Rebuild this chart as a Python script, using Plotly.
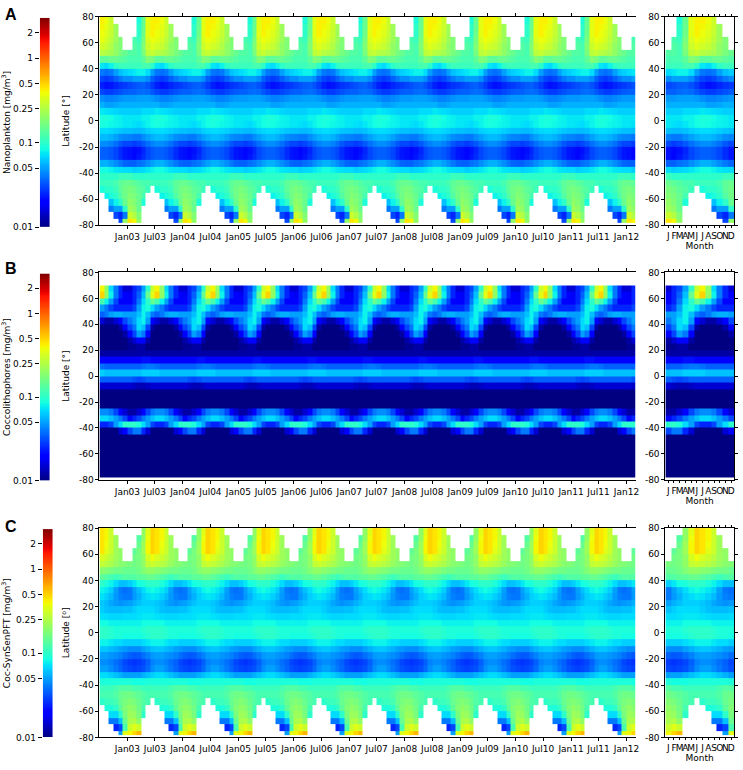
import numpy as np
import pandas as pd
import plotly.graph_objects as go

W, H = 743, 770
N = np.nan

# latitude band edges (south -> north); the tables below are written north -> south
lat_edges = [-78] + list(range(-75, 81, 5))
lat_ticks = [-80, -60, -40, -20, 0, 20, 40, 60, 80]
lat_ticktext = ["-80", "-60", "-40", "-20", "0", "20", "40", "60", "80"]
month_labels = ["J", "F", "M", "A", "M", "J", "J", "A", "S", "O", "N", "D"]
cbar_ticks = [0.01, 0.05, 0.1, 0.25, 0.5, 1, 2]
cbar_ticktext = ["0.01", "0.05", "0.1", "0.25", "0.5", "1", "2"]
vmin, vmax = 0.01, 3.0
first_month, end_month = "2002-07-01", "2012-03-01"
first_tick, last_tick = "2003-01-01", "2012-01-01"

# monthly climatology [mg/m3], rows 80N -> 78S in 5 deg bands, cols Jan..Dec
nano_clim = [
    [N, N, 0.09, 0.15, 0.36, 0.42, 0.42, 0.38, 0.3, N, N, N],           # 75-80
    [N, N, 0.1, 0.15, 0.36, 0.42, 0.4, 0.36, 0.3, 0.22, N, N],          # 70-75
    [N, N, 0.1, 0.16, 0.36, 0.42, 0.38, 0.34, 0.29, 0.22, N, N],        # 65-70
    [N, 0.12, 0.11, 0.17, 0.33, 0.38, 0.36, 0.32, 0.27, 0.22, 0.18, N], # 60-65
    [N, 0.13, 0.12, 0.18, 0.3, 0.34, 0.31, 0.29, 0.25, 0.2, 0.18, N],   # 55-60
    [0.13, 0.13, 0.12, 0.17, 0.27, 0.29, 0.26, 0.25, 0.23, 0.2, 0.17, 0.15],
    [0.12, 0.12, 0.12, 0.14, 0.18, 0.17, 0.14, 0.14, 0.15, 0.15, 0.14, 0.13],
    [0.11, 0.11, 0.11, 0.12, 0.12, 0.1, 0.075, 0.07, 0.08, 0.1, 0.11, 0.11],
    [0.07, 0.075, 0.08, 0.08, 0.07, 0.05, 0.04, 0.038, 0.04, 0.05, 0.06, 0.065],
    [0.045, 0.05, 0.05, 0.05, 0.045, 0.035, 0.03, 0.028, 0.03, 0.035, 0.04, 0.045],
    [0.03, 0.032, 0.034, 0.035, 0.032, 0.028, 0.024, 0.022, 0.023, 0.025, 0.027, 0.028],
    [0.035, 0.035, 0.037, 0.038, 0.037, 0.033, 0.03, 0.028, 0.028, 0.03, 0.032, 0.034],
    [0.048, 0.048, 0.05, 0.05, 0.05, 0.048, 0.045, 0.042, 0.042, 0.044, 0.046, 0.048],
    [0.055, 0.055, 0.055, 0.055, 0.055, 0.055, 0.055, 0.05, 0.05, 0.052, 0.055, 0.055],
    [0.065, 0.065, 0.065, 0.07, 0.07, 0.07, 0.075, 0.072, 0.07, 0.068, 0.065, 0.065],
    [0.075, 0.075, 0.075, 0.08, 0.08, 0.085, 0.09, 0.09, 0.085, 0.08, 0.078, 0.075],
    [0.075, 0.072, 0.07, 0.075, 0.08, 0.085, 0.088, 0.085, 0.082, 0.08, 0.078, 0.075],
    [0.06, 0.058, 0.058, 0.06, 0.065, 0.068, 0.07, 0.07, 0.068, 0.065, 0.062, 0.06],
    [0.042, 0.04, 0.04, 0.045, 0.05, 0.055, 0.058, 0.058, 0.055, 0.05, 0.045, 0.043],
    [0.03, 0.028, 0.03, 0.033, 0.038, 0.042, 0.045, 0.045, 0.042, 0.038, 0.033, 0.03],
    [0.022, 0.021, 0.022, 0.025, 0.03, 0.033, 0.035, 0.035, 0.033, 0.03, 0.026, 0.023],
    [0.022, 0.021, 0.023, 0.026, 0.03, 0.033, 0.035, 0.035, 0.033, 0.03, 0.026, 0.023],
    [0.035, 0.035, 0.038, 0.04, 0.045, 0.05, 0.055, 0.055, 0.05, 0.045, 0.04, 0.036],
    [0.07, 0.065, 0.068, 0.07, 0.075, 0.08, 0.085, 0.085, 0.08, 0.075, 0.072, 0.07],
    [0.11, 0.1, 0.1, 0.1, 0.1, 0.1, 0.1, 0.1, 0.1, 0.1, 0.11, 0.11],
    [0.15, 0.14, 0.13, 0.12, 0.12, 0.11, 0.11, 0.11, 0.11, 0.12, 0.14, 0.15],
    [0.17, 0.16, 0.14, 0.13, 0.11, N, 0.09, 0.1, 0.1, 0.11, 0.14, 0.16],
    [0.18, 0.17, 0.15, 0.12, N, N, N, 0.08, 0.09, 0.1, 0.13, 0.16],
    [0.2, 0.18, 0.15, 0.09, N, N, N, N, 0.06, 0.08, 0.1, 0.15],
    [0.22, 0.2, 0.15, N, N, N, N, N, 0.04, 0.05, 0.05, 0.1],
    [0.3, 0.25, 0.18, N, N, N, N, N, N, 0.03, 0.025, 0.04],
    [0.45, 0.4, 0.2, N, N, N, N, N, N, N, 0.03, 0.2],                  # 75-78S
]

cocco_clim = [
    [N] * 12,
    [N] * 12,
    [0.015, 0.025, 0.03, 0.05, 0.1, 0.3, 0.4, 0.2, 0.07, 0.04, 0.025, 0.015],
    [0.018, 0.025, 0.035, 0.06, 0.15, 0.35, 0.5, 0.2, 0.08, 0.04, 0.025, 0.02],
    [0.02, 0.025, 0.04, 0.07, 0.1, 0.15, 0.12, 0.08, 0.05, 0.03, 0.02, 0.02],
    [0.025, 0.03, 0.05, 0.08, 0.09, 0.07, 0.05, 0.04, 0.03, 0.025, 0.025, 0.025],
    [0.05, 0.05, 0.06, 0.08, 0.06, 0.04, 0.035, 0.04, 0.05, 0.055, 0.055, 0.05],
    [0.04, 0.05, 0.07, 0.08, 0.05, 0.02, 0.015, 0.012, 0.012, 0.015, 0.02, 0.03],
    [0.03, 0.04, 0.07, 0.06, 0.03, 0.012, 0.01, 0.01, 0.01, 0.01, 0.012, 0.02],
    [0.02, 0.03, 0.05, 0.04, 0.02, 0.01, 0.01, 0.01, 0.01, 0.01, 0.01, 0.012],
    [0.012, 0.015, 0.02, 0.02, 0.012, 0.01, 0.01, 0.01, 0.01, 0.01, 0.01, 0.01],
    [0.011, 0.011, 0.012, 0.012, 0.01, 0.01, 0.01, 0.01, 0.01, 0.01, 0.01, 0.01],
    [0.012, 0.012, 0.012, 0.012, 0.012, 0.012, 0.012, 0.012, 0.012, 0.012, 0.012, 0.012],
    [0.02, 0.02, 0.02, 0.022, 0.022, 0.02, 0.02, 0.02, 0.02, 0.02, 0.02, 0.02],
    [0.035, 0.035, 0.035, 0.038, 0.04, 0.04, 0.038, 0.035, 0.035, 0.035, 0.035, 0.035],
    [0.06, 0.06, 0.06, 0.065, 0.065, 0.065, 0.065, 0.06, 0.06, 0.06, 0.06, 0.06],
    [0.035, 0.032, 0.03, 0.032, 0.035, 0.035, 0.035, 0.035, 0.035, 0.035, 0.035, 0.035],
    [0.015, 0.014, 0.013, 0.013, 0.014, 0.015, 0.015, 0.015, 0.015, 0.015, 0.015, 0.015],
    [0.01] * 12,
    [0.01] * 12,
    [0.01] * 12,
    [0.012, 0.012, 0.015, 0.02, 0.03, 0.04, 0.045, 0.045, 0.04, 0.03, 0.02, 0.015],
    [0.02, 0.025, 0.03, 0.04, 0.05, 0.06, 0.07, 0.07, 0.06, 0.05, 0.04, 0.03],
    [0.1, 0.1, 0.09, 0.07, 0.05, 0.03, 0.025, 0.025, 0.03, 0.05, 0.07, 0.1],
    [0.03, 0.04, 0.04, 0.025, 0.015, 0.01, 0.01, 0.01, 0.01, 0.01, 0.015, 0.02],
    [0.01] * 12,
    [0.01] * 12,
    [0.01] * 12,
    [0.01] * 12,
    [0.01] * 12,
    [0.01] * 12,
    [0.01] * 12,
]

synsen_clim = [
    [N, N, N, 0.2, 0.35, 0.5, 0.45, 0.4, 0.3, N, N, N],
    [N, N, 0.13, 0.2, 0.38, 0.5, 0.45, 0.4, 0.3, 0.22, N, N],
    [N, N, 0.15, 0.22, 0.4, 0.5, 0.45, 0.38, 0.3, 0.22, N, N],
    [N, 0.14, 0.17, 0.22, 0.4, 0.5, 0.45, 0.35, 0.3, 0.22, 0.2, N],
    [N, 0.16, 0.17, 0.2, 0.32, 0.38, 0.33, 0.3, 0.26, 0.22, 0.2, N],
    [0.17, 0.16, 0.17, 0.2, 0.28, 0.3, 0.28, 0.26, 0.24, 0.21, 0.19, 0.18],
    [0.15, 0.15, 0.16, 0.18, 0.2, 0.2, 0.19, 0.18, 0.17, 0.16, 0.16, 0.15],
    [0.13, 0.13, 0.14, 0.14, 0.15, 0.15, 0.14, 0.13, 0.12, 0.11, 0.12, 0.13],
    [0.065, 0.075, 0.085, 0.09, 0.1, 0.1, 0.1, 0.09, 0.08, 0.07, 0.06, 0.06],
    [0.04, 0.05, 0.06, 0.07, 0.08, 0.085, 0.08, 0.075, 0.065, 0.05, 0.04, 0.038],
    [0.04, 0.048, 0.055, 0.065, 0.07, 0.075, 0.072, 0.065, 0.058, 0.048, 0.042, 0.04],
    [0.05, 0.055, 0.06, 0.065, 0.065, 0.065, 0.062, 0.058, 0.052, 0.048, 0.046, 0.048],
    [0.06, 0.065, 0.07, 0.07, 0.07, 0.07, 0.065, 0.06, 0.058, 0.058, 0.058, 0.06],
    [0.07, 0.07, 0.072, 0.075, 0.075, 0.075, 0.072, 0.07, 0.068, 0.068, 0.068, 0.07],
    [0.08, 0.08, 0.08, 0.085, 0.085, 0.085, 0.085, 0.085, 0.08, 0.08, 0.08, 0.08],
    [0.09, 0.09, 0.09, 0.095, 0.1, 0.1, 0.1, 0.1, 0.095, 0.09, 0.09, 0.09],
    [0.085, 0.085, 0.085, 0.09, 0.095, 0.1, 0.1, 0.1, 0.095, 0.09, 0.09, 0.085],
    [0.065, 0.065, 0.065, 0.07, 0.075, 0.08, 0.08, 0.08, 0.075, 0.07, 0.07, 0.065],
    [0.045, 0.045, 0.045, 0.05, 0.055, 0.06, 0.062, 0.062, 0.058, 0.055, 0.05, 0.048],
    [0.035, 0.033, 0.034, 0.038, 0.042, 0.048, 0.05, 0.05, 0.047, 0.045, 0.042, 0.038],
    [0.028, 0.027, 0.028, 0.03, 0.035, 0.042, 0.045, 0.045, 0.042, 0.038, 0.035, 0.03],
    [0.03, 0.029, 0.03, 0.032, 0.037, 0.045, 0.05, 0.05, 0.045, 0.04, 0.036, 0.032],
    [0.05, 0.05, 0.05, 0.055, 0.06, 0.065, 0.07, 0.07, 0.065, 0.06, 0.055, 0.05],
    [0.09, 0.085, 0.085, 0.085, 0.09, 0.09, 0.09, 0.09, 0.09, 0.09, 0.09, 0.09],
    [0.13, 0.12, 0.12, 0.11, 0.11, 0.11, 0.11, 0.11, 0.11, 0.12, 0.13, 0.13],
    [0.16, 0.15, 0.14, 0.13, 0.12, 0.12, 0.12, 0.12, 0.12, 0.13, 0.15, 0.16],
    [0.18, 0.17, 0.15, 0.13, 0.12, N, 0.1, 0.11, 0.11, 0.12, 0.15, 0.17],
    [0.2, 0.19, 0.16, 0.12, N, N, N, 0.09, 0.09, 0.1, 0.14, 0.18],
    [0.22, 0.21, 0.17, 0.1, N, N, N, N, 0.07, 0.07, 0.1, 0.17],
    [0.24, 0.25, 0.2, N, N, N, N, N, 0.04, 0.04, 0.06, 0.15],
    [0.3, 0.35, 0.3, N, N, N, N, N, N, 0.025, 0.03, 0.12],
    [0.4, 0.5, 0.6, N, N, N, N, N, N, N, 0.05, 0.35],
]

panel_letters = ["A", "B", "C"]
cbar_titles = ["Nanoplankton [mg/m<sup>3</sup>]",
               "Coccolithophores [mg/m<sup>3</sup>]",
               "Coc-SynSenPFT [mg/m<sup>3</sup>]"]
lat_titles = ["Latitude [°]", "Latitude [°]", "Latitude [<sup>o</sup>]"]
tables = [nano_clim, cocco_clim, synsen_clim]


def jet():
    # matplotlib's jet segments
    r = ([0, 0.35, 0.66, 0.89, 1], [0, 0, 1, 1, 0.5])
    g = ([0, 0.125, 0.375, 0.64, 0.91, 1], [0, 0, 1, 1, 0, 0])
    b = ([0, 0.11, 0.34, 0.65, 1], [0.5, 1, 1, 0, 0])
    stops = [0, .11, .125, .34, .35, .375, .5, .64, .65, .66, .78, .89, .91, 1]
    cs = []
    for s in stops:
        c = [int(round(255 * np.interp(s, *k))) for k in (r, g, b)]
        cs.append([s, "rgb(%d,%d,%d)" % tuple(c)])
    return cs


JET = jet()
zmin, zmax = np.log10(vmin), np.log10(vmax)

month_edges = pd.date_range(first_month, end_month, freq="MS")
cell_month = month_edges[:-1].month.values - 1
tick_dates = pd.date_range(first_tick, last_tick, freq="6MS")

# positions in pixels (left, right) / (top, bottom)
rows_px = [(12, 223), (271, 481), (530, 742)]
cbar_px = [(40, 50, 13, 225), (40, 50, 272, 482), (43, 53, 531, 742)]
letter_y = [10, 267, 528]
main_x = (100, 639)
clim_x = (669, 738)


def xd(a, b):
    return [a / W, b / W]


def yd(t, b):
    return [1 - b / H, 1 - t / H]


fig = go.Figure()
layout = {}
font = dict(family="DejaVu Sans", size=9, color="black")
axcommon = dict(showgrid=False, zeroline=False, showline=True, linecolor="black",
                linewidth=1, ticks="outside", tickcolor="black", ticklen=3,
                tickfont=font, tickangle=0)

ramp_edges = np.logspace(zmin, zmax, 241)
ramp_z = np.log10(np.sqrt(ramp_edges[:-1] * ramp_edges[1:]))[:, None]

for i, clim in enumerate(tables):
    z = np.log10(np.array(clim, dtype=float))[::-1]   # south -> north
    n_main, n_clim, n_cb = 3 * i + 1, 3 * i + 2, 3 * i + 3
    top, bot = rows_px[i]

    fig.add_trace(go.Heatmap(
        x=month_edges, y=lat_edges, z=z[:, cell_month],
        colorscale=JET, zmin=zmin, zmax=zmax, showscale=False,
        xaxis="x%d" % n_main, yaxis="y%d" % n_main, hoverongaps=False))
    fig.add_trace(go.Heatmap(
        x=np.arange(0.5, 12.6, 1), y=lat_edges, z=z,
        colorscale=JET, zmin=zmin, zmax=zmax, showscale=False,
        xaxis="x%d" % n_clim, yaxis="y%d" % n_clim, hoverongaps=False))
    fig.add_trace(go.Heatmap(
        x=[0, 1], y=ramp_edges, z=ramp_z,
        colorscale=JET, zmin=zmin, zmax=zmax, showscale=False,
        xaxis="x%d" % n_cb, yaxis="y%d" % n_cb, hoverinfo="skip"))

    layout["xaxis%d" % n_main] = dict(
        axcommon, domain=xd(*main_x), anchor="y%d" % n_main, type="date",
        range=[first_month, end_month], tickvals=list(tick_dates),
        tickformat="%b%y", mirror="ticks")
    layout["yaxis%d" % n_main] = dict(
        axcommon, domain=yd(top, bot), anchor="x%d" % n_main, range=[-80, 80],
        tickvals=lat_ticks, ticktext=lat_ticktext, mirror=False,
        title=dict(text=lat_titles[i], font=font, standoff=7))

    layout["xaxis%d" % n_clim] = dict(
        axcommon, domain=xd(*clim_x), anchor="y%d" % n_clim, range=[0.5, 12.5],
        tickvals=list(range(1, 13)), ticktext=month_labels, mirror="ticks",
        ticklen=2, title=dict(text="Month", font=font, standoff=1))
    layout["yaxis%d" % n_clim] = dict(
        axcommon, domain=yd(top, bot), anchor="x%d" % n_clim, range=[-80, 80],
        tickvals=lat_ticks, ticktext=lat_ticktext, mirror="ticks")

    cl, cr, ct, cbt = cbar_px[i]
    layout["xaxis%d" % n_cb] = dict(
        domain=xd(cl, cr), anchor="y%d" % n_cb, range=[0, 1], visible=False)
    layout["yaxis%d" % n_cb] = dict(
        axcommon, domain=yd(ct, cbt), anchor="x%d" % n_cb, type="log",
        range=[zmin, zmax], tickvals=cbar_ticks, ticktext=cbar_ticktext,
        showline=False, ticklen=4,
        title=dict(text=cbar_titles[i], font=font, standoff=6))

annotations = []
for i, letter in enumerate(panel_letters):
    annotations.append(dict(
        text="<b>%s</b>" % letter, xref="paper", yref="paper",
        x=3 / W, y=1 - letter_y[i] / H, xanchor="left", yanchor="middle",
        showarrow=False, font=dict(family="Liberation Sans", size=16, color="black")))

fig.update_layout(
    width=W, height=H, margin=dict(l=0, r=0, t=0, b=0),
    paper_bgcolor="white", plot_bgcolor="white", font=font,
    showlegend=False, annotations=annotations, **layout)

# the page's default body margin would push the figure 8px right and down
fig.write_html("out.html", config={"displayModeBar": False},
               post_script="document.body.style.margin='0';"
                           "document.body.style.overflow='hidden';")
